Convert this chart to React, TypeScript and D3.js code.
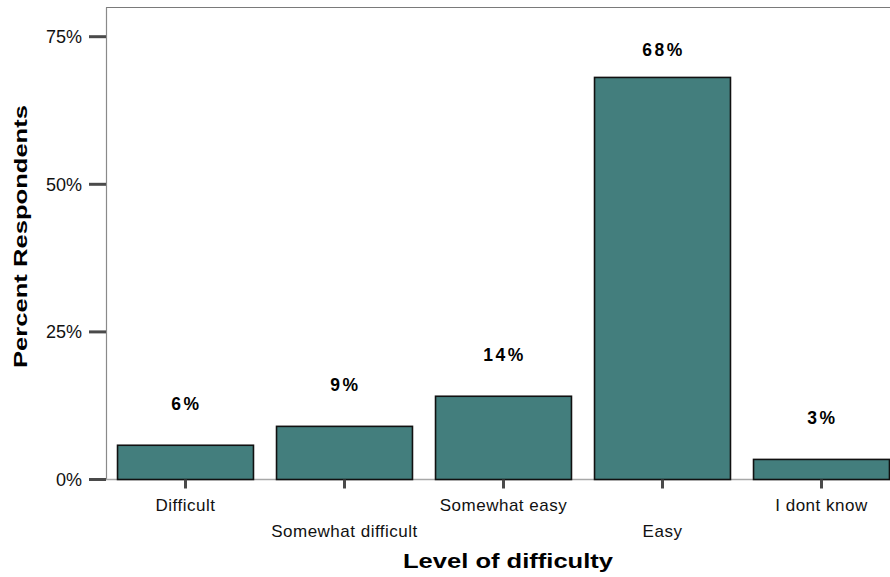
import React from "react";
import * as d3 from "d3";

const categories = ["Difficult", "Somewhat difficult", "Somewhat easy", "Easy", "I dont know"];
const values = [5.8, 9.0, 14.1, 68.1, 3.4];
const yTicks = [0, 25, 50, 75];

const W = 890;
const H = 577;
const left = 106;
const top = 7.5;
const bottom = 479.5;

export default function App() {
  const x = d3
    .scaleBand<string>()
    .domain(categories)
    .range([left, left + 795])
    .paddingInner(0.145)
    .paddingOuter(0.0725);
  const y = d3.scaleLinear().domain([0, 75]).range([bottom, 36.7]);
  const font = "'Liberation Sans', Arial, sans-serif";

  return (
    <svg
      width={W}
      height={H}
      style={{ position: "absolute", left: 0, top: 0, background: "#fff" }}
      fontFamily={font}
    >
      {/* frame */}
      <line x1={left} x2={W} y1={top} y2={top} stroke="#7a7a7a" strokeWidth={1.2} />
      <line x1={left + 0.5} x2={left + 0.5} y1={top} y2={bottom} stroke="#8a8a8a" strokeWidth={1.2} />
      <line x1={left} x2={W} y1={bottom} y2={bottom} stroke="#a8a8a8" strokeWidth={1.5} />

      {/* y ticks */}
      {yTicks.map((t) => (
        <g key={t}>
          <line x1={89} x2={left} y1={y(t)} y2={y(t)} stroke="#4a4a4a" strokeWidth={3} />
          <text x={82} y={y(t) + 6.5} textAnchor="end" fontSize={18} fill="#111">
            {`${t}%`}
          </text>
        </g>
      ))}

      {/* bars */}
      {categories.map((c, i) => {
        const x0 = x(c)!;
        const bw = x.bandwidth();
        const cx = x0 + bw / 2;
        const labelY = Math.max(y(values[i]) - 35, 56);
        return (
          <g key={c}>
            <rect
              x={x0}
              y={y(values[i])}
              width={bw}
              height={bottom - y(values[i])}
              fill="#437e7d"
              stroke="#111"
              strokeWidth={1.6}
            />
            <line x1={cx} x2={cx} y1={bottom} y2={bottom + 9} stroke="#4a4a4a" strokeWidth={3} />
            <text
              x={cx + 1}
              y={labelY}
              textAnchor="middle"
              fontSize={17.5}
              fontWeight="bold"
              letterSpacing={2.5}
              fill="#000"
            >
              {`${Math.round(values[i])}%`}
            </text>
            <text
              x={cx}
              y={i % 2 === 0 ? 511 : 537}
              textAnchor="middle"
              fontSize={17}
              letterSpacing={0.5}
              fill="#111"
            >
              {c}
            </text>
          </g>
        );
      })}

      {/* axis titles */}
      <text
        x={508}
        y={568}
        textAnchor="middle"
        fontSize={21}
        fontWeight="bold"
        textLength={210}
        lengthAdjust="spacingAndGlyphs"
        fill="#000"
      >
        Level of difficulty
      </text>
      <text
        transform="translate(26.5,236.5) rotate(-90)"
        textAnchor="middle"
        fontSize={18}
        fontWeight="bold"
        textLength={263}
        lengthAdjust="spacingAndGlyphs"
        fill="#000"
      >
        Percent  Respondents
      </text>
    </svg>
  );
}
